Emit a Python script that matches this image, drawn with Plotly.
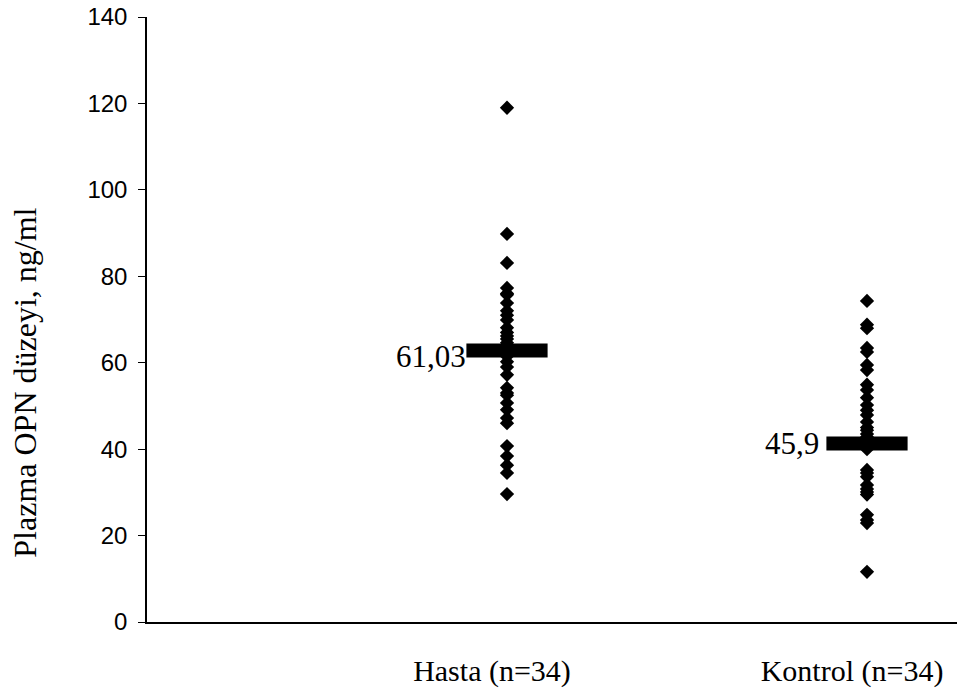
import plotly.graph_objects as go

categories = ["Hasta (n=34)", "Kontrol (n=34)"]
hasta = [119.0, 89.8, 83.1, 77.3, 76.0, 75.7, 73.8, 72.0, 71.0, 69.9, 68.1, 67.0,
         66.2, 65.5, 64.6, 63.5, 62.8, 62.0, 61.5, 60.2, 59.0, 57.2, 54.2, 53.0,
         52.5, 50.7, 49.1, 47.2, 46.0, 40.7, 38.4, 36.3, 34.5, 29.6]
kontrol = [74.3, 68.8, 68.0, 63.4, 62.5, 59.5, 58.3, 54.9, 53.7, 51.9, 50.2, 49.0,
           47.9, 46.3, 45.0, 44.4, 43.5, 42.8, 42.0, 41.5, 41.0, 40.5, 40.0, 35.2,
           34.5, 33.6, 31.7, 30.8, 30.1, 29.5, 24.8, 23.6, 22.9, 11.6]
mean_drawn = [62.8, 41.3]
mean_labels = ["61,03", "45,9"]
yticks = [0, 20, 40, 60, 80, 100, 120, 140]

xpos = [1, 2]
label_xshift = [-39, -46]
label_yshift = [-6, 0]

fig = go.Figure()
for xp, vals in zip(xpos, [hasta, kontrol]):
    fig.add_trace(go.Scatter(
        x=[xp] * len(vals), y=vals, mode="markers",
        marker=dict(symbol="diamond", size=11, color="black"),
        showlegend=False, hoverinfo="y"))
fig.add_trace(go.Scatter(
    x=xpos, y=mean_drawn, mode="markers",
    marker=dict(symbol="line-ew", size=58, line=dict(width=14, color="black"), color="black"),
    showlegend=False, hoverinfo="y"))
for xp, m, lab, xs, ys in zip(xpos, mean_drawn, mean_labels, label_xshift, label_yshift):
    fig.add_annotation(x=xp, y=m, text=lab, showarrow=False, xanchor="right",
                       yanchor="middle", xshift=xs, yshift=ys,
                       font=dict(family="Liberation Serif", size=31, color="black"))

fig.add_annotation(text="Plazma OPN düzeyi, ng/ml", textangle=-90, showarrow=False,
                   xref="paper", yref="paper", x=-0.151, y=0.395, xanchor="center",
                   yanchor="middle",
                   font=dict(family="Liberation Serif", size=32, color="black"))

fig.update_layout(
    width=957, height=690,
    margin=dict(l=147, r=0, t=17, b=68, autoexpand=False),
    plot_bgcolor="white", paper_bgcolor="white",
    xaxis=dict(range=[0, 2.25], tickvals=xpos, ticktext=categories,
               showgrid=False, zeroline=False, showline=True, linecolor="black",
               linewidth=1.5, ticks="", ticklabelstandoff=21, automargin=False,
               ticklabeloverflow="allow", ticklabelshift=-15,
               tickfont=dict(family="Liberation Serif", size=30, color="black")),
    yaxis=dict(range=[0, 140], tickvals=yticks, showgrid=False, zeroline=False,
               showline=True, linecolor="black", linewidth=1.5, ticks="outside",
               ticklen=7, tickcolor="black", ticklabelstandoff=6, automargin=False,
               ticklabeloverflow="allow",
               tickfont=dict(family="Liberation Sans", size=24, color="black")),
)
fig.write_html("out.html", config={"displayModeBar": False},
               post_script="document.body.style.margin='0';document.body.style.overflow='hidden';")
